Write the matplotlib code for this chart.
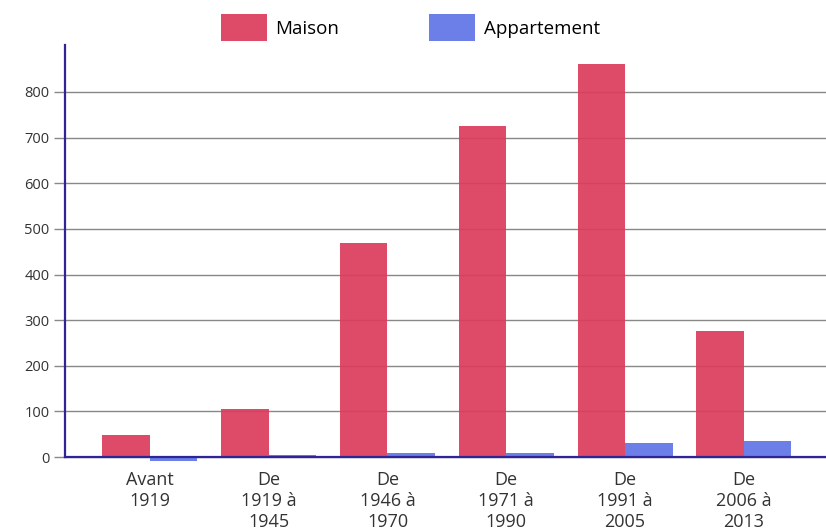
import numpy as np
import matplotlib
matplotlib.use("Agg")
import matplotlib.pyplot as plt

plt.rcParams["font.family"] = ["Open Sans", "DejaVu Sans"]

periodes = ["Avant\n1919", "De\n1919 à\n1945", "De\n1946 à\n1970",
            "De\n1971 à\n1990", "De\n1991 à\n2005", "De\n2006 à\n2013"]
maison = [48, 105, 470, 725, 862, 276]
appartement = [-8, 5, 9, 9, 31, 35]
yticks = [0, 100, 200, 300, 400, 500, 600, 700, 800]

ROUGE = "#dc3c5c"
BLEU = "#5f73e6"
MARINE = "#2e2496"

fig = plt.figure(figsize=(8.26, 5.31), dpi=100)
ax = fig.add_axes([0.0787, 0.1307, 0.921, 0.7846])

x = np.arange(len(periodes))
w = 0.4
ax.bar(x - w / 2, maison, w, color=ROUGE, alpha=0.92, label="Maison", zorder=1)
ax.bar(x + w / 2, appartement, w, color=BLEU, alpha=0.92, label="Appartement", zorder=1)

ax.set_xlim(-0.715, 5.69)
ax.set_ylim(-10, 903)
ax.set_yticks(yticks)
ax.set_xticks(x)
ax.set_xticklabels(periodes)
for lab in ax.get_xticklabels():
    lab.set_linespacing(1.46)
ax.tick_params(axis="x", length=0, pad=10, labelsize=13, labelcolor="#333333")
ax.tick_params(axis="y", length=8, width=1, color="#888888", labelsize=10.5,
               labelcolor="#333333", pad=3)
ax.yaxis.grid(True, color="#888888", linewidth=1, zorder=0)
ax.set_axisbelow(True)

for s in ("top", "right"):
    ax.spines[s].set_visible(False)
ax.spines["left"].set_color(MARINE)
ax.spines["left"].set_linewidth(1.6)
ax.spines["left"].set_bounds(0, 903)
ax.spines["bottom"].set_position(("data", 0))
ax.spines["bottom"].set_color(MARINE)
ax.spines["bottom"].set_linewidth(1.6)
ax.spines["bottom"].set_zorder(3)

fig.legend(loc="upper center", bbox_to_anchor=(0.497, 1.005), ncol=2, frameon=False,
           fontsize=13.5, handlelength=2.45, handleheight=1.8, handletextpad=0.45,
           columnspacing=4.8)

fig.savefig("out.png", dpi=100)
